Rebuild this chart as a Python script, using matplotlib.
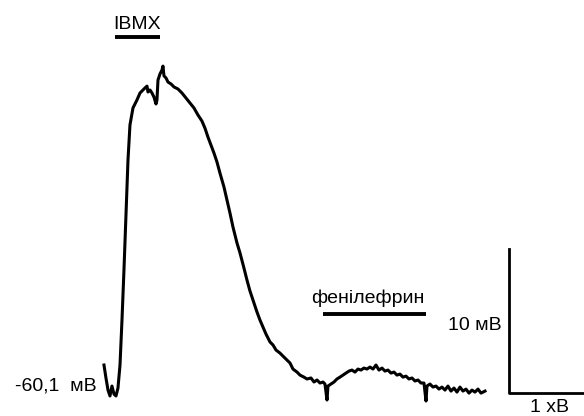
import matplotlib
matplotlib.use("Agg")
import matplotlib.pyplot as plt

plt.rcParams["font.family"] = ["Liberation Sans", "DejaVu Sans"]

# membrane potential trace, time in minutes, voltage in mV
time_min = [
    0.000, 0.033, 0.067, 0.100, 0.133, 0.167, 0.200, 0.233, 0.267, 0.300,
    0.333, 0.367, 0.400, 0.433, 0.483, 0.517, 0.550, 0.600, 0.650, 0.683,
    0.717, 0.733, 0.767, 0.800, 0.833, 0.867, 0.883, 0.900, 0.933, 0.967,
    0.983, 1.000, 1.033, 1.067, 1.117, 1.167, 1.233, 1.300, 1.367, 1.433,
    1.500, 1.567, 1.633, 1.683, 1.733, 1.783, 1.833, 1.883, 1.933, 2.000,
    2.050, 2.100, 2.150, 2.217, 2.267, 2.333, 2.383, 2.433, 2.483, 2.550,
    2.600, 2.650, 2.700, 2.767, 2.817, 2.867, 2.933, 2.983, 3.050, 3.100,
    3.150, 3.217, 3.267, 3.333, 3.383, 3.450, 3.500, 3.550, 3.600, 3.650,
    3.683, 3.700, 3.717, 3.733, 3.783, 3.833, 3.883, 3.933, 3.983, 4.033,
    4.083, 4.133, 4.183, 4.233, 4.283, 4.333, 4.383, 4.433, 4.483, 4.533,
    4.583, 4.633, 4.683, 4.733, 4.783, 4.833, 4.883, 4.933, 4.983, 5.033,
    5.083, 5.133, 5.183, 5.233, 5.283, 5.333, 5.350, 5.367, 5.383, 5.433,
    5.483, 5.533, 5.583, 5.633, 5.683, 5.733, 5.783, 5.833, 5.883, 5.933,
    5.983, 6.033, 6.083, 6.133, 6.183, 6.233, 6.283, 6.350,
]
voltage_mv = [
    -58.71, -59.61, -60.45, -60.86, -60.17, -60.73, -60.86, -60.31, -58.71, -55.59,
    -52.11, -48.29, -44.48, -42.04, -40.86, -40.58, -40.30, -39.82, -39.61, -39.47,
    -39.34, -39.75, -39.61, -39.82, -40.10, -40.58, -40.30, -38.92, -38.50, -38.22,
    -37.95, -38.63, -38.77, -39.06, -39.19, -39.40, -39.54, -39.82, -40.17, -40.52,
    -40.86, -41.35, -41.77, -42.26, -42.88, -43.43, -43.99, -44.61, -45.38, -46.35,
    -47.25, -48.16, -49.13, -50.24, -50.93, -51.98, -52.81, -53.57, -54.20, -55.03,
    -55.59, -56.07, -56.56, -57.11, -57.32, -57.67, -57.88, -58.09, -58.36, -58.57,
    -58.99, -59.20, -59.41, -59.55, -59.68, -59.61, -59.89, -59.75, -59.96, -59.89,
    -60.03, -60.59, -61.14, -60.17, -60.03, -59.89, -59.68, -59.55, -59.41, -59.27,
    -59.13, -59.06, -59.20, -58.99, -59.06, -58.92, -58.99, -58.85, -58.99, -58.71,
    -59.06, -58.92, -59.13, -59.06, -59.27, -59.20, -59.41, -59.34, -59.55, -59.48,
    -59.68, -59.61, -59.82, -59.75, -59.96, -59.96, -60.59, -61.21, -60.17, -60.03,
    -60.24, -60.17, -60.38, -60.24, -60.45, -60.17, -60.52, -60.31, -60.59, -60.24,
    -60.52, -60.38, -60.66, -60.45, -60.59, -60.38, -60.66, -60.52,
]

rest_label = "-60,1  мВ"
rest_mv = -60.1

# drug applications: label, bar start/end (min), bar level (mV), label centre (min), label baseline (mV)
drug_names = ["IBMX", "фенілефрин"]
drug_start = [0.18, 3.65]
drug_end = [0.93, 5.37]
drug_bar_mv = [-35.95, -55.2]
drug_label_t = [0.55, 4.4]
drug_label_mv = [-35.38, -54.41]

# scale bars: 10 mV vertical, time bar runs to the frame edge
scale_v = 10.0
scale_v_label = "10 мВ"
scale_t_label = "1 хВ"

fig = plt.figure(figsize=(5.84, 4.16), dpi=100)
ax = fig.add_axes([0, 0, 1, 1])
ax.set_xlim(-1.733, 8.0)
ax.set_ylim(-62.25, -33.36)
ax.axis("off")

ax.plot(time_min, voltage_mv, color="black", lw=2.2)

ax.text(-0.117, -60.45, rest_label, ha="right", va="baseline", fontsize=14)

for name, t0, t1, yb, tl, yl in zip(drug_names, drug_start, drug_end,
                                    drug_bar_mv, drug_label_t, drug_label_mv):
    ax.plot([t0, t1], [yb, yb], color="black", lw=2.8, solid_capstyle="butt")
    ax.text(tl, yl, name, ha="center", va="baseline", fontsize=14)

# scale bar, corner at bottom left
sx, sy = 6.75, -60.65
ax.plot([sx, sx, 8.1], [sy + scale_v, sy, sy], color="black", lw=2.0,
        clip_on=False)
ax.text(6.633, -56.28, scale_v_label, ha="right", va="baseline", fontsize=14)
ax.text(7.433, -61.95, scale_t_label, ha="center", va="baseline", fontsize=14)

fig.savefig("out.png", dpi=100)
